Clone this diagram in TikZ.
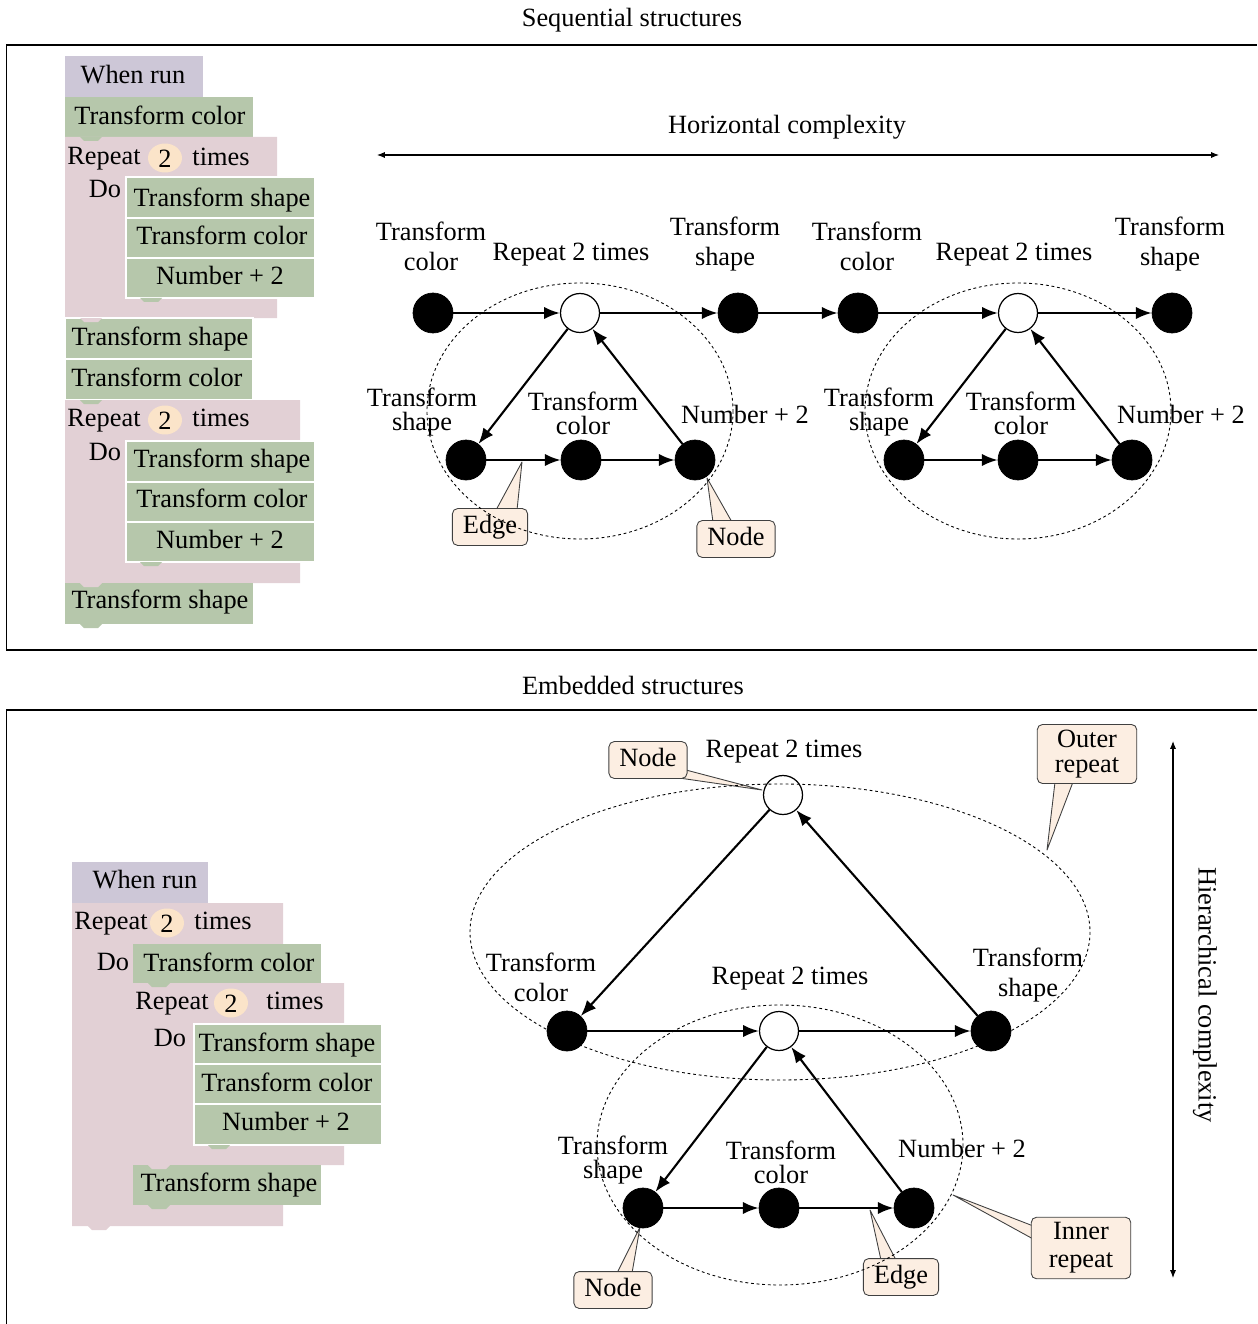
\documentclass[tikz,border=0pt]{standalone}
\usepackage{fontspec}
\setmainfont{Liberation Serif}
\usetikzlibrary{arrows.meta,backgrounds,calc,shapes.geometric}

\definecolor{runcol}{RGB}{205,199,215}
\definecolor{actcol}{RGB}{182,199,171}
\definecolor{loopcol}{RGB}{226,208,213}
\definecolor{numcol}{RGB}{251,228,201}
\definecolor{tagcol}{RGB}{252,238,226}

\def\blknotch#1(#2,#3){\fill[#1] (#2,#3) -- ++(22,0) -- ++(-4,4) -- ++(-14,0) -- cycle;}

\tikzset{
	fullnode/.style={circle,draw=black,fill=black,minimum size=0.8cm,inner sep=0pt},
	emptynode/.style={circle,draw=black,fill=white,line width=0.7pt,minimum size=0.78cm,inner sep=0pt},
	flowarrow/.style={-{Latex[length=9pt,width=7pt]},line width=1.2pt},
	axisarrow/.style={{Latex[length=4.5pt,width=3.5pt]}-{Latex[length=4.5pt,width=3.5pt]},line width=0.6pt},
	loopring/.style={dash pattern=on 1.6pt off 1.6pt,line width=0.5pt},
	lbl/.style={align=center,inner sep=0pt},
	tightlbl/.style={align=center,inner sep=0pt,font=\fontsize{15}{13.5}\selectfont},
	blktxt/.style={inner sep=0pt,text height=10.5pt,text depth=3.5pt},
	numoval/.style={ellipse,fill=numcol,minimum width=0.68cm,minimum height=0.58cm,inner sep=0pt,text height=10.5pt,text depth=0pt},
	actblk/.style={fill=actcol,draw=white,line width=0.6pt},
	tagbox/.style={draw=black!75,fill=tagcol,rounded corners=3pt,line width=0.5pt,inner xsep=6pt,inner ysep=3.5pt,text height=10.5pt,text depth=3.5pt},
	tagbox2/.style={draw=black!75,fill=tagcol,rounded corners=3pt,line width=0.5pt,inner xsep=10pt,inner ysep=3pt,align=center},
	tagwedge/.style={draw=black!75,fill=tagcol,line width=0.5pt,line join=round},
}

\begin{document}
\begin{tikzpicture}[x=0.02cm,y=-0.02cm,font=\fontsize{15}{17}\selectfont]
			\useasboundingbox (0,0) rectangle (1257,1324);
			
			%%%%% FRAMES %%%%%
			
			\node (seqT) at (632,20) {Sequential structures};
			\draw[line width=1.2pt] (6,45) -- (1257,45);
			\draw[line width=0.5pt] (6,45) -- (6,650);
			\draw[line width=1pt] (6,650) -- (1257,650);
			
			\node (embT) at (633,685) {Embedded structures};
			\draw[line width=1.2pt] (6,710) -- (1257,710);
			\draw[line width=0.5pt] (6,710) -- (6,1324);
			
			%%%%% SEQUENTIAL SCRIPT %%%%%
			
			\fill[runcol] (65,56) rectangle (203,97);
			\node[blktxt] (qRun) at (133,77) {When run};
			\blknotch{runcol}(80,97)
			
			\fill[actcol] (65,97) rectangle (253,137);
			\node[blktxt] (qCol1) at (160,118) {Transform color};
			
			\fill[loopcol] (65,137) -- (277,137) -- (277,177) -- (126,177) -- (126,298) -- (277,298) -- (277,318) -- (65,318) -- cycle;
			\blknotch{actcol}(80,137)
			\node[blktxt] (qRep1) at (104,158) {Repeat};
			\node[numoval] (qNum1) at (165,158) {2};
			\node[blktxt] (qTim1) at (221,159) {times};
			\node[blktxt] (qDo1) at (105,191) {Do};
			\draw[actblk] (126,177) rectangle (315,218);
			\node[blktxt] (qShp2) at (222,200) {Transform shape};
			\draw[actblk] (126,218) rectangle (315,258);
			\node[blktxt] (qCol2) at (222,238) {Transform color};
			\draw[actblk] (126,258) rectangle (315,298);
			\node[blktxt] (qAdd1) at (220,278) {Number + 2};
			\blknotch{actcol}(140,298)
			
			\draw[actblk] (65,318) rectangle (253,359);
			\blknotch{loopcol}(80,318)
			\node[blktxt] (qShp3) at (160,339) {Transform shape};
			\draw[actblk] (65,359) rectangle (253,400);
			\node[blktxt] (qCol3) at (157,380) {Transform color};
			
			\fill[loopcol] (65,400) -- (300,400) -- (300,441) -- (126,441) -- (126,562) -- (300,562) -- (300,583) -- (65,583) -- cycle;
			\blknotch{actcol}(80,400)
			\node[blktxt] (qRep2) at (104,420) {Repeat};
			\node[numoval] (qNum2) at (165,420) {2};
			\node[blktxt] (qTim2) at (221,420) {times};
			\node[blktxt] (qDo2) at (105,454) {Do};
			\draw[actblk] (126,441) rectangle (315,482);
			\node[blktxt] (qShp4) at (222,461) {Transform shape};
			\draw[actblk] (126,482) rectangle (315,522);
			\node[blktxt] (qCol4) at (222,501) {Transform color};
			\draw[actblk] (126,522) rectangle (315,562);
			\node[blktxt] (qAdd2) at (220,542) {Number + 2};
			\blknotch{actcol}(140,562)
			
			\fill[actcol] (65,583) rectangle (253,624);
			\blknotch{loopcol}(80,583)
			\blknotch{actcol}(80,624)
			\node[blktxt] (qShp5) at (160,602) {Transform shape};
			
			%%%%% SEQUENTIAL GRAPH %%%%%
			
			\coordinate (hzL) at (377,155);
			\coordinate (hzR) at (1219,155);
			\draw[axisarrow] (hzL) -- (hzR);
			\node (hzT) at (787,127) {Horizontal complexity};
			
			\node[fullnode] (sA0) at (433,313) {};
			\node[emptynode] (sA1) at (580,313) {};
			\node[fullnode] (sA2) at (738,313) {};
			\node[fullnode] (sA3) at (466,460) {};
			\node[fullnode] (sA4) at (581,460) {};
			\node[fullnode] (sA5) at (695,460) {};
			
			\node[fullnode] (sB0) at (858,313) {};
			\node[emptynode] (sB1) at (1018,313) {};
			\node[fullnode] (sB2) at (1172,313) {};
			\node[fullnode] (sB3) at (904,460) {};
			\node[fullnode] (sB4) at (1018,460) {};
			\node[fullnode] (sB5) at (1132,460) {};
			
			\node[lbl] (lA0) at (431,246) {Transform\\color};
			\node[lbl] (lA1) at (571,255) {Repeat 2 times};
			\node[lbl] (lA2) at (725,244) {Transform\\shape};
			\node[tightlbl] (lA3) at (422,412) {Transform\\shape};
			\node[tightlbl] (lA4) at (583,413) {Transform\\color};
			\node[lbl] (lA5) at (745,414) {Number + 2};
			
			\node[lbl] (lB0) at (867,246) {Transform\\color};
			\node[lbl] (lB1) at (1014,255) {Repeat 2 times};
			\node[lbl] (lB2) at (1170,244) {Transform\\shape};
			\node[tightlbl] (lB3) at (879,412) {Transform\\shape};
			\node[tightlbl] (lB4) at (1021,413) {Transform\\color};
			\node[lbl] (lB5) at (1181,414) {Number + 2};
			
			\draw[flowarrow] (sA0) -- (sA1);
			\draw[flowarrow] (sA1) -- (sA2);
			\draw[flowarrow] (sA2) -- (sB0);
			\draw[flowarrow] (sB0) -- (sB1);
			\draw[flowarrow] (sB1) -- (sB2);
			
			\draw[flowarrow] (sA1) -- (sA3);
			\draw[flowarrow] (sA3) -- (sA4);
			\draw[flowarrow] (sA4) -- (sA5);
			\draw[flowarrow] (sA5) -- (sA1);
			
			\draw[flowarrow] (sB1) -- (sB3);
			\draw[flowarrow] (sB3) -- (sB4);
			\draw[flowarrow] (sB4) -- (sB5);
			\draw[flowarrow] (sB5) -- (sB1);
			
			\node[tagbox] (tEdgeA) at (490,527) {Edge};
			\node[tagbox] (tNodeA) at (736,539) {Node};
			\coordinate (pEdgeA) at (522,462);
			\coordinate (pNodeA) at (707,478);
			\begin{pgfonlayer}{background}
				\draw[tagwedge] ($(tEdgeA.north)+(6,2)$) -- (pEdgeA) -- ($(tEdgeA.north)+(27,2)$) -- cycle;
				\draw[tagwedge] ($(tNodeA.north)+(-23,2)$) -- (pNodeA) -- ($(tNodeA.north)+(-4,2)$) -- cycle;
			\end{pgfonlayer}
			
			\draw[loopring] (580,411) ellipse [x radius=153, y radius=128];
			\draw[loopring] (1018,411) ellipse [x radius=153, y radius=128];
			
			%%%%% EMBEDDED SCRIPT %%%%%
			
			\fill[runcol] (72,862) rectangle (208,903);
			\node[blktxt] (eRun) at (145,882) {When run};
			\blknotch{runcol}(88,903)
			
			\fill[loopcol] (72,903) -- (283,903) -- (283,944) -- (133,944) -- (133,1205) -- (283,1205) -- (283,1226) -- (72,1226) -- cycle;
			\blknotch{loopcol}(88,1226)
			\node[blktxt] (eRep1) at (111,923) {Repeat};
			\node[numoval] (eNum1) at (167,923) {2};
			\node[blktxt] (eTim1) at (223,923) {times};
			\node[blktxt] (eDo1) at (113,964) {Do};
			\fill[actcol] (133,944) rectangle (321,983);
			\node[blktxt] (eCol1) at (229,965) {Transform color};
			
			\fill[loopcol] (133,983) -- (344,983) -- (344,1024) -- (194,1024) -- (194,1145) -- (344,1145) -- (344,1165) -- (133,1165) -- cycle;
			\blknotch{actcol}(148,983)
			\node[blktxt] (eRep2) at (172,1003) {Repeat};
			\node[numoval] (eNum2) at (231,1003) {2};
			\node[blktxt] (eTim2) at (295,1003) {times};
			\node[blktxt] (eDo2) at (170,1040) {Do};
			\draw[actblk] (194,1024) rectangle (382,1064);
			\node[blktxt] (eShp1) at (287,1045) {Transform shape};
			\draw[actblk] (194,1064) rectangle (382,1104);
			\node[blktxt] (eCol2) at (287,1085) {Transform color};
			\draw[actblk] (194,1104) rectangle (382,1145);
			\node[blktxt] (eAdd1) at (286,1124) {Number + 2};
			\blknotch{actcol}(208,1145)
			
			\fill[actcol] (133,1165) rectangle (321,1205);
			\blknotch{loopcol}(148,1165)
			\blknotch{actcol}(148,1205)
			\node[blktxt] (eShp2) at (229,1185) {Transform shape};
			
			%%%%% EMBEDDED GRAPH %%%%%
			
			\coordinate (vtT) at (1173,741);
			\coordinate (vtB) at (1173,1278);
			\draw[axisarrow] (vtT) -- (vtB);
			\node[rotate=-90] (vtL) at (1205,995) {Hierarchical complexity};
			
			\node[emptynode] (hA1) at (783,795) {};
			\node[fullnode] (hA0) at (567,1031) {};
			\node[emptynode] (hB1) at (779,1031) {};
			\node[fullnode] (hA2) at (991,1031) {};
			\node[fullnode] (hB3) at (643,1208) {};
			\node[fullnode] (hB4) at (779,1208) {};
			\node[fullnode] (hB5) at (914,1208) {};
			
			\node[lbl] (mA1) at (784,752) {Repeat 2 times};
			\node[lbl] (mA0) at (541,977) {Transform\\color};
			\node[lbl] (mA2) at (1028,975) {Transform\\shape};
			\node[lbl] (mB1) at (790,979) {Repeat 2 times};
			\node[tightlbl] (mB3) at (613,1160) {Transform\\shape};
			\node[tightlbl] (mB4) at (781,1162) {Transform\\color};
			\node[lbl] (mB5) at (962,1148) {Number + 2};
			
			\draw[flowarrow] (hA1) -- (hA0);
			\draw[flowarrow] (hA0) -- (hB1);
			\draw[flowarrow] (hB1) -- (hA2);
			\draw[flowarrow] (hA2) -- (hA1);
			
			\draw[flowarrow] (hB1) -- (hB3);
			\draw[flowarrow] (hB3) -- (hB4);
			\draw[flowarrow] (hB4) -- (hB5);
			\draw[flowarrow] (hB5) -- (hB1);
			
			\node[tagbox] (tNodeB) at (648,760) {Node};
			\node[tagbox2,font=\fontsize{15}{14.5}\selectfont] (tOuter) at (1087,754) {Outer\\repeat};
			\node[tagbox2,font=\fontsize{15}{16}\selectfont] (tInner) at (1081,1248) {Inner\\repeat};
			\node[tagbox] (tNodeC) at (613,1290) {Node};
			\node[tagbox] (tEdgeB) at (901,1277) {Edge};
			\coordinate (pNodeB) at (762,790);
			\coordinate (pOuter) at (1047,850);
			\coordinate (pInner) at (953,1195);
			\coordinate (pNodeC) at (640,1227);
			\coordinate (pEdgeB) at (870,1210);
			\begin{pgfonlayer}{background}
				\draw[tagwedge] ($(tNodeB.south east)+(-16,-2)$) -- (pNodeB) -- ($(tNodeB.south east)+(-2,-9)$) -- cycle;
				\draw[tagwedge] ($(tOuter.south)+(-32,-2)$) -- (pOuter) -- ($(tOuter.south)+(-14,-2)$) -- cycle;
				\draw[tagwedge] ($(tInner.north west)+(2,9)$) -- (pInner) -- ($(tInner.north west)+(2,22)$) -- cycle;
				\draw[tagwedge] ($(tNodeC.north)+(4,2)$) -- (pNodeC) -- ($(tNodeC.north)+(19,2)$) -- cycle;
				\draw[tagwedge] ($(tEdgeB.north)+(-20,2)$) -- (pEdgeB) -- ($(tEdgeB.north)+(-5,2)$) -- cycle;
			\end{pgfonlayer}
			
			\draw[loopring] (780,932) ellipse [x radius=310, y radius=148];
			\draw[loopring] (780,1145) ellipse [x radius=183, y radius=140];
			
		\end{tikzpicture}
\end{document}
